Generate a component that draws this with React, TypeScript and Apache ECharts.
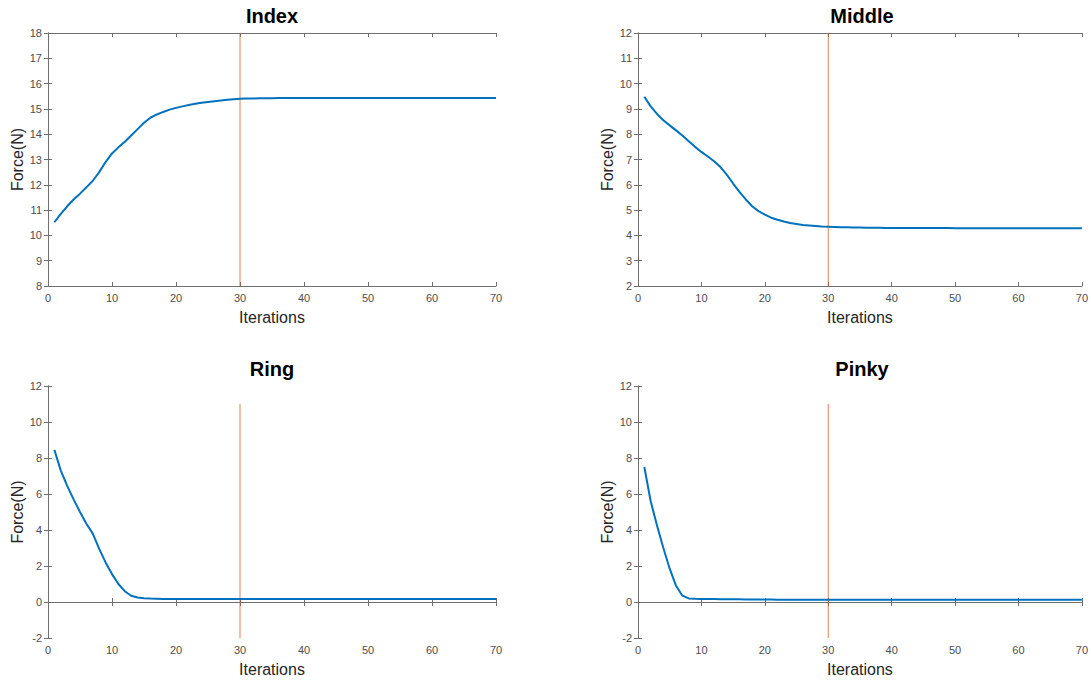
import React, { useEffect, useRef } from "react";
import * as echarts from "echarts";

const titles = ["Index", "Middle", "Ring", "Pinky"];
const xLabel = "Iterations";
const yLabel = "Force(N)";
const xTicks = { min: 0, max: 70, interval: 10 };
const yRanges = [
  { min: 8, max: 18, interval: 1 },
  { min: 2, max: 12, interval: 1 },
  { min: -2, max: 12, interval: 2 },
  { min: -2, max: 12, interval: 2 },
];
const markerX = 30;
const markerRanges = [
  [8, 18],
  [2, 12],
  [-2, 11],
  [-2, 11],
];

const indexForce = [
  10.52, 10.85, 11.15, 11.42, 11.65, 11.9, 12.16, 12.5, 12.9, 13.24,
  13.48, 13.7, 13.95, 14.2, 14.45, 14.65, 14.78, 14.88, 14.97, 15.04,
  15.1, 15.15, 15.2, 15.24, 15.27, 15.3, 15.33, 15.36, 15.38, 15.4,
  15.41, 15.41, 15.42, 15.42, 15.42, 15.43, 15.43, 15.43, 15.43, 15.43,
  15.43, 15.43, 15.43, 15.43, 15.43, 15.43, 15.43, 15.43, 15.43, 15.43,
  15.43, 15.43, 15.43, 15.43, 15.43, 15.43, 15.43, 15.43, 15.43, 15.43,
  15.43, 15.43, 15.43, 15.43, 15.43, 15.43, 15.43, 15.43, 15.43, 15.43,
];

const middleForce = [
  9.48, 9.1, 8.8, 8.55, 8.35, 8.15, 7.95, 7.72, 7.5, 7.3,
  7.12, 6.93, 6.7, 6.4, 6.05, 5.72, 5.42, 5.15, 4.96, 4.82,
  4.7, 4.62, 4.55, 4.49, 4.45, 4.41, 4.39, 4.37, 4.35, 4.34,
  4.33, 4.32, 4.32, 4.31, 4.31, 4.3, 4.3, 4.3, 4.29, 4.29,
  4.29, 4.29, 4.29, 4.29, 4.29, 4.29, 4.29, 4.29, 4.29, 4.28,
  4.28, 4.28, 4.28, 4.28, 4.28, 4.28, 4.28, 4.28, 4.28, 4.28,
  4.28, 4.28, 4.28, 4.28, 4.28, 4.28, 4.28, 4.28, 4.28, 4.28,
];

const ringForce = [
  8.45, 7.3, 6.45, 5.7, 5.0, 4.35, 3.8, 2.95, 2.2, 1.55,
  1.0, 0.6, 0.35, 0.25, 0.21, 0.19, 0.18, 0.17, 0.17, 0.16,
  0.16, 0.16, 0.16, 0.16, 0.16, 0.16, 0.16, 0.16, 0.16, 0.16,
  0.16, 0.16, 0.16, 0.16, 0.16, 0.16, 0.16, 0.16, 0.16, 0.16,
  0.16, 0.16, 0.16, 0.16, 0.16, 0.16, 0.16, 0.16, 0.16, 0.16,
  0.16, 0.16, 0.16, 0.16, 0.16, 0.16, 0.16, 0.16, 0.16, 0.16,
  0.16, 0.16, 0.16, 0.16, 0.16, 0.16, 0.16, 0.16, 0.16, 0.16,
];

const pinkyForce = [
  7.5, 5.6, 4.25, 3.0, 1.85, 0.9, 0.35, 0.2, 0.18, 0.17,
  0.16, 0.16, 0.15, 0.15, 0.15, 0.15, 0.14, 0.14, 0.14, 0.14,
  0.14, 0.13, 0.13, 0.13, 0.13, 0.13, 0.13, 0.13, 0.13, 0.13,
  0.13, 0.13, 0.13, 0.13, 0.13, 0.13, 0.13, 0.13, 0.13, 0.13,
  0.12, 0.12, 0.12, 0.12, 0.12, 0.12, 0.12, 0.12, 0.12, 0.12,
  0.12, 0.12, 0.12, 0.12, 0.12, 0.12, 0.12, 0.12, 0.12, 0.12,
  0.12, 0.12, 0.12, 0.12, 0.12, 0.12, 0.12, 0.12, 0.12, 0.12,
];

const forces = [indexForce, middleForce, ringForce, pinkyForce];

const FONT = "'Liberation Sans', Arial, Helvetica, sans-serif";
const AXIS_COLOR = "#6f6f6f";
const LABEL_COLOR = "#4d4d4d";

const grids = [
  { left: 48, top: 33, width: 448, height: 253 },
  { left: 638, top: 33, width: 448, height: 253 },
  { left: 48, top: 386, width: 448, height: 252 },
  { left: 638, top: 386, width: 448, height: 252 },
];

export default function App() {
  const ref = useRef<HTMLDivElement>(null);

  useEffect(() => {
    if (!ref.current) return;
    const chart = echarts.init(ref.current, null, { renderer: "svg" });

    const xAxes: any[] = [];
    const yAxes: any[] = [];
    const series: any[] = [];
    const titleOpts: any[] = [];

    grids.forEach((g, i) => {
      const line = { show: true, lineStyle: { color: AXIS_COLOR, width: 1 } };
      const tick = { show: true, inside: true, length: 4, lineStyle: { color: AXIS_COLOR } };
      xAxes.push({
        type: "value",
        gridIndex: i,
        position: "bottom",
        ...xTicks,
        axisLine: line,
        axisTick: tick,
        splitLine: { show: false },
        axisLabel: { color: LABEL_COLOR, fontSize: 11, fontFamily: FONT, margin: 6 },
        name: xLabel,
        nameLocation: "middle",
        nameGap: 23,
        nameTextStyle: { color: "#262626", fontSize: 16, fontFamily: FONT },
      });
      xAxes.push({
        type: "value",
        gridIndex: i,
        position: "top",
        ...xTicks,
        axisLine: line,
        axisTick: tick,
        splitLine: { show: false },
        axisLabel: { show: false },
      });
      yAxes.push({
        type: "value",
        gridIndex: i,
        position: "left",
        ...yRanges[i],
        axisLine: line,
        axisTick: tick,
        splitLine: { show: false },
        axisLabel: { color: LABEL_COLOR, fontSize: 11, fontFamily: FONT, margin: 6 },
        name: yLabel,
        nameLocation: "middle",
        nameGap: 20,
        nameTextStyle: { color: "#262626", fontSize: 16, fontFamily: FONT },
      });
      yAxes.push({
        type: "value",
        gridIndex: i,
        position: "right",
        ...yRanges[i],
        axisLine: line,
        axisTick: tick,
        splitLine: { show: false },
        axisLabel: { show: false },
      });

      series.push({
        type: "line",
        xAxisIndex: i * 2,
        yAxisIndex: i * 2,
        data: markerRanges[i].map((y) => [markerX, y]),
        showSymbol: false,
        lineStyle: { color: "#D95319", width: 1, opacity: 0.75 },
        silent: true,
        z: 2,
      });
      series.push({
        type: "line",
        xAxisIndex: i * 2,
        yAxisIndex: i * 2,
        data: forces[i].map((v, k) => [k + 1, v]),
        showSymbol: false,
        lineStyle: { color: "#0072BD", width: 2 },
        silent: true,
        z: 3,
      });

      titleOpts.push({
        text: titles[i],
        left: g.left + g.width / 2,
        top: 6,
        textAlign: "center",
        padding: 0,
        textStyle: { fontSize: 20, fontWeight: "bold", color: "#000", fontFamily: FONT },
      });
      if (i >= 2) titleOpts[i].top = 359;
    });

    chart.setOption({
      animation: false,
      backgroundColor: "#ffffff",
      textStyle: { fontFamily: FONT },
      title: titleOpts,
      grid: grids.map((g) => ({ ...g, containLabel: false })),
      xAxis: xAxes,
      yAxis: yAxes,
      series,
    });

    return () => chart.dispose();
  }, []);

  return (
    <div
      ref={ref}
      style={{ position: "absolute", left: 0, top: 0, width: 1091, height: 681 }}
    />
  );
}
